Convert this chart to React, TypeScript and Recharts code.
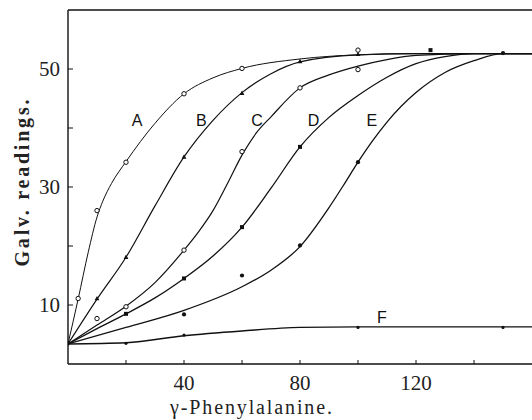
import React from 'react';
import { ComposedChart, Line, Scatter, XAxis, YAxis, ReferenceLine, Label } from 'recharts';

// Curve samples (x = γ-Phenylalanine, y = Galv. readings)
const curveAx = [0, 3.5, 7, 10, 12, 15, 20, 30, 40, 50, 60, 80, 100, 120, 160];
const curveAy = [3.4, 11, 19, 24.9, 27.6, 30.6, 34.3, 40.8, 45.8, 48.5, 50.1, 51.7, 52.4, 52.6, 52.6];
const curveBx = [0, 10, 20, 30, 40, 50, 60, 70, 80, 100, 120, 160];
const curveBy = [3.4, 11, 18.1, 26.8, 35.1, 41.3, 46, 49.2, 51.2, 52.4, 52.6, 52.6];
const curveCx = [0, 10, 20, 30, 40, 45, 50, 55, 60, 65, 70, 80, 90, 100, 110, 120, 140, 160];
const curveCy = [3.4, 6.6, 9.8, 13.8, 19.3, 22.4, 26, 30.6, 35.4, 39.2, 41.9, 46.8, 49, 50.5, 51.6, 52.3, 52.6, 52.6];
const curveDx = [0, 10, 20, 30, 40, 50, 60, 70, 80, 90, 100, 110, 120, 130, 140, 160];
const curveDy = [3.4, 6, 8.5, 11.2, 14.5, 18.3, 23.2, 29.8, 36.8, 41.8, 45.5, 48.6, 50.9, 52.1, 52.6, 52.6];
const curveEx = [0, 20, 40, 60, 70, 80, 90, 95, 100, 105, 110, 120, 130, 140, 150, 160];
const curveEy = [3.4, 6.2, 9.1, 13.1, 15.9, 19.9, 26.5, 30.3, 34.2, 37.8, 41, 46, 49.4, 51.4, 52.6, 52.6];
const curveFx = [0, 20, 40, 60, 80, 100, 160];
const curveFy = [3.4, 3.6, 4.8, 5.6, 6.2, 6.3, 6.3];

// Observed points
const markAx = [3.5, 10, 20, 40, 60, 100];
const markAy = [11.1, 26, 34.2, 45.8, 50.1, 53.2];
const markBx = [10, 20, 40, 60, 80, 100];
const markBy = [11.1, 18.1, 35.1, 45.9, 51.3, 52.5];
const markCx = [10, 20, 40, 60, 80, 100];
const markCy = [7.7, 9.7, 19.3, 36, 46.8, 49.9];
const markDx = [20, 40, 60, 80, 125];
const markDy = [8.5, 14.5, 23.2, 36.8, 53.2];
const markEx = [40, 60, 80, 100, 150];
const markEy = [8.4, 15, 20.1, 34.2, 52.7];
const markFx = [0, 20, 40, 100, 150];
const markFy = [3.4, 3.5, 4.9, 6.2, 6.2];

// Curve labels
const labelNames = ['A', 'B', 'C', 'D', 'E', 'F'];
const labelX = [23.8, 46, 65.2, 84.7, 104.8, 108.2];
const labelY = [41.3, 41.3, 41.3, 41.3, 41.3, 8];

const xTicks = [20, 40, 60, 80, 100, 120, 140];
const xTickLabels = [40, 80, 120];
const yTicks = [10, 20, 30, 40, 50];
const yTickLabels = [10, 30, 50];

const zip = (xs: number[], ys: number[]) => xs.map((x, i) => ({ x, y: ys[i] }));

const INK = '#111';

const XTick = (props: any) => {
  const { x, y, payload } = props;
  const v = payload.value;
  return (
    <g>
      <line x1={x} y1={y} x2={x} y2={y - 4} stroke={INK} strokeWidth={1} />
      {xTickLabels.includes(v) && (
        <text x={x} y={y + 26} textAnchor="middle" fontFamily="Liberation Serif" fontSize={21} fill="#222">
          {v}
        </text>
      )}
    </g>
  );
};

const YTick = (props: any) => {
  const { x, y, payload } = props;
  const v = payload.value;
  return (
    <g>
      <line x1={x} y1={y} x2={x + 5} y2={y} stroke={INK} strokeWidth={1} />
      {yTickLabels.includes(v) && (
        <text x={x - 8} y={y + 7} textAnchor="end" fontFamily="Liberation Serif" fontSize={21} fill="#222">
          {v}
        </text>
      )}
    </g>
  );
};

const openCircle = (p: any) => <circle cx={p.cx} cy={p.cy} r={2.2} fill="#fff" stroke={INK} strokeWidth={1} />;
const dotSmall = (p: any) => <circle cx={p.cx} cy={p.cy} r={1.6} fill={INK} />;
const dotMed = (p: any) => <circle cx={p.cx} cy={p.cy} r={2.1} fill={INK} />;
const tri = (p: any) => (
  <path d={`M${p.cx},${p.cy - 2.6}L${p.cx + 2.4},${p.cy + 1.8}L${p.cx - 2.4},${p.cy + 1.8}Z`} fill={INK} />
);
const square = (p: any) => <rect x={p.cx - 2} y={p.cy - 2} width={4} height={4} fill={INK} />;
const letter = (p: any) => (
  <text x={p.cx} y={p.cy} dy="0.36em" textAnchor="middle" fontFamily="Liberation Sans" fontSize={16} fill={INK}>
    {p.payload.name}
  </text>
);

const YTitle = () => (
  <text
    x={21}
    y={175}
    transform="rotate(-90, 21, 175)"
    textAnchor="middle"
    fontFamily="Liberation Serif"
    fontWeight="bold"
    fontSize={20}
    fill="#222"
    textLength={167}
    lengthAdjust="spacing"
  >
    Galv. readings.
  </text>
);

const XTitle = () => (
  <text
    x={243}
    y={406}
    textAnchor="middle"
    fontFamily="Liberation Serif"
    fontSize={20}
    fill="#222"
    textLength={162}
    lengthAdjust="spacing"
  >
    γ-Phenylalanine.
  </text>
);

export default function App() {
  const curves = [
    { xs: curveAx, ys: curveAy, w: 1.0 },
    { xs: curveBx, ys: curveBy, w: 1.2 },
    { xs: curveCx, ys: curveCy, w: 1.2 },
    { xs: curveDx, ys: curveDy, w: 1.3 },
    { xs: curveEx, ys: curveEy, w: 1.3 },
    { xs: curveFx, ys: curveFy, w: 1.4 },
  ];
  const marks = [
    { xs: markAx, ys: markAy, shape: openCircle },
    { xs: markBx, ys: markBy, shape: tri },
    { xs: markCx, ys: markCy, shape: openCircle },
    { xs: markDx, ys: markDy, shape: square },
    { xs: markEx, ys: markEy, shape: dotMed },
    { xs: markFx, ys: markFy, shape: dotSmall },
  ];
  const labels = labelNames.map((name, i) => ({ x: labelX[i], y: labelY[i], name }));

  return (
    <div style={{ position: 'absolute', left: 8, top: 8, width: 524, height: 412, overflow: 'hidden' }}>
      <ComposedChart width={524} height={412} margin={{ top: 2, right: 0, bottom: 0, left: 0 }}>
        <XAxis
          type="number"
          dataKey="x"
          domain={[0, 160]}
          ticks={xTicks}
          tick={<XTick />}
          tickSize={0}
          tickMargin={0}
          tickLine={false}
          height={56}
          axisLine={{ stroke: INK, strokeWidth: 1.4 }}
          allowDataOverflow
        >
          <Label content={<XTitle />} />
        </XAxis>
        <YAxis
          type="number"
          dataKey="y"
          domain={[0, 60]}
          ticks={yTicks}
          tick={<YTick />}
          tickSize={0}
          tickMargin={0}
          tickLine={false}
          width={60}
          axisLine={{ stroke: INK, strokeWidth: 1.4 }}
          allowDataOverflow
        >
          <Label content={<YTitle />} />
        </YAxis>
        <ReferenceLine y={60} stroke={INK} strokeWidth={1.6} ifOverflow="extendDomain" />
        {curves.map((c, i) => (
          <Line
            key={'c' + i}
            data={zip(c.xs, c.ys)}
            dataKey="y"
            type="monotone"
            stroke={INK}
            strokeWidth={c.w}
            dot={false}
            activeDot={false}
            isAnimationActive={false}
          />
        ))}
        {marks.map((m, i) => (
          <Scatter key={'m' + i} data={zip(m.xs, m.ys)} dataKey="y" shape={m.shape} isAnimationActive={false} />
        ))}
        <Scatter data={labels} dataKey="y" shape={letter} isAnimationActive={false} />
      </ComposedChart>
    </div>
  );
}
